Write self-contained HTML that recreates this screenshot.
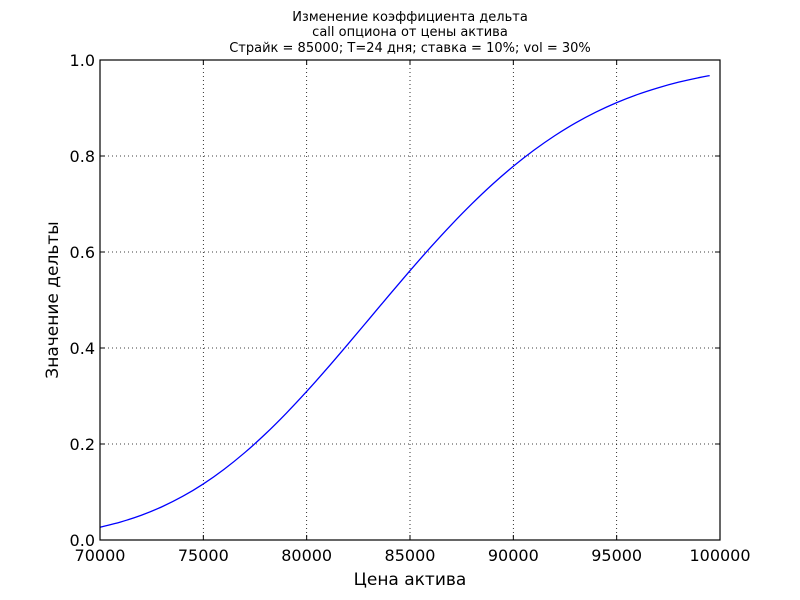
<!DOCTYPE html>
<html><head><meta charset="utf-8"><style>
body{margin:0;background:#fff;}
svg{display:block;font-family:"DejaVu Sans","Liberation Sans",sans-serif;}
</style></head><body>
<svg id="chart" width="800" height="600" viewBox="0 0 800 600">
<rect width="800" height="600" fill="#fff"/>
<g font-size="13" text-anchor="middle" fill="#000">
<text x="410" y="21">Изменение коэффициента дельта</text>
<text x="410" y="36">call опциона от цены актива</text>
<text x="410" y="52">Страйк = 85000; T=24 дня; ставка = 10%; vol = 30%</text>
</g>
<g id="grid"></g>
<g id="ticks"></g>
<path id="curve" fill="none" stroke="#0000ff" stroke-width="1.3"/>
<rect x="100" y="60" width="620" height="480" fill="none" stroke="#000" stroke-width="1.2"/>
<text x="410" y="585" font-size="17" text-anchor="middle">Цена актива</text>
<text x="0" y="0" font-size="17" text-anchor="middle" transform="translate(58,300) rotate(-90)">Значение дельты</text>
</svg>
<script>
const prices = [70000,71000,72000,73000,74000,75000,76000,77000,78000,79000,80000,81000,82000,83000,84000,85000,86000,87000,88000,89000,90000,91000,92000,93000,94000,95000,96000,97000,98000,99000,99500];
const deltas = [0.0267,0.0376,0.0516,0.0693,0.0909,0.1168,0.1472,0.1819,0.2208,0.2635,0.3094,0.3579,0.4082,0.4593,0.5106,0.5610,0.6100,0.6567,0.7006,0.7414,0.7786,0.8122,0.8422,0.8686,0.8915,0.9112,0.9280,0.9420,0.9538,0.9634,0.9675];
const xTicks = [70000,75000,80000,85000,90000,95000,100000];
const yTicks = [0.0,0.2,0.4,0.6,0.8,1.0];
const yTickLabels = ["0.0","0.2","0.4","0.6","0.8","1.0"];

const X0=100,X1=720,Y0=540,Y1=60;
const xs=v=>X0+(v-70000)/30000*(X1-X0);
const ys=v=>Y0-(v-0)/1*(Y0-Y1);
const NS="http://www.w3.org/2000/svg";
const grid=document.getElementById('grid'), ticks=document.getElementById('ticks');
function mk(tag,attrs,parent){const e=document.createElementNS(NS,tag);for(const k in attrs)e.setAttribute(k,attrs[k]);parent.appendChild(e);return e;}
xTicks.forEach(t=>{
  const x=xs(t);
  const g=mk('line',{x1:x,x2:x,y1:Y1,y2:Y0,stroke:'#000','stroke-width':0.8,'stroke-dasharray':'1,3'},grid);
  
  
  const a=mk('line',{x1:x,x2:x,y1:Y0,y2:Y0-5,stroke:'#000'},ticks);
  
  
  const b=mk('line',{x1:x,x2:x,y1:Y1,y2:Y1+5,stroke:'#000'},ticks);
  
  
  const l=mk('text',{x:x,y:Y0+21,'font-size':16,'text-anchor':'middle'},ticks);
  l.textContent=String(t);
  
  
});
yTicks.forEach((t,i)=>{
  const y=ys(t);
  const g=mk('line',{x1:X0,x2:X1,y1:y,y2:y,stroke:'#000','stroke-width':0.8,'stroke-dasharray':'1,3'},grid);
  
  
  const a=mk('line',{x1:X0,x2:X0+5,y1:y,y2:y,stroke:'#000'},ticks);
  
  
  const b=mk('line',{x1:X1,x2:X1-5,y1:y,y2:y,stroke:'#000'},ticks);
  
  
  const l=mk('text',{x:X0-5,y:y+6,'font-size':16,'text-anchor':'end'},ticks);
  l.textContent=yTickLabels[i];
  
  
});
const pts=prices.map((p,i)=>[xs(p),ys(deltas[i])]);
let d='M'+pts[0][0]+','+pts[0][1];
for(let i=0;i<pts.length-1;i++){
  const p0=pts[i-1]||pts[i],p1=pts[i],p2=pts[i+1],p3=pts[i+2]||p2;
  const c1=[p1[0]+(p2[0]-p0[0])/6,p1[1]+(p2[1]-p0[1])/6];
  const c2=[p2[0]-(p3[0]-p1[0])/6,p2[1]-(p3[1]-p1[1])/6];
  d+=' C'+c1+' '+c2+' '+p2;
}
document.getElementById('curve').setAttribute('d',d);
</script>
</body></html>
